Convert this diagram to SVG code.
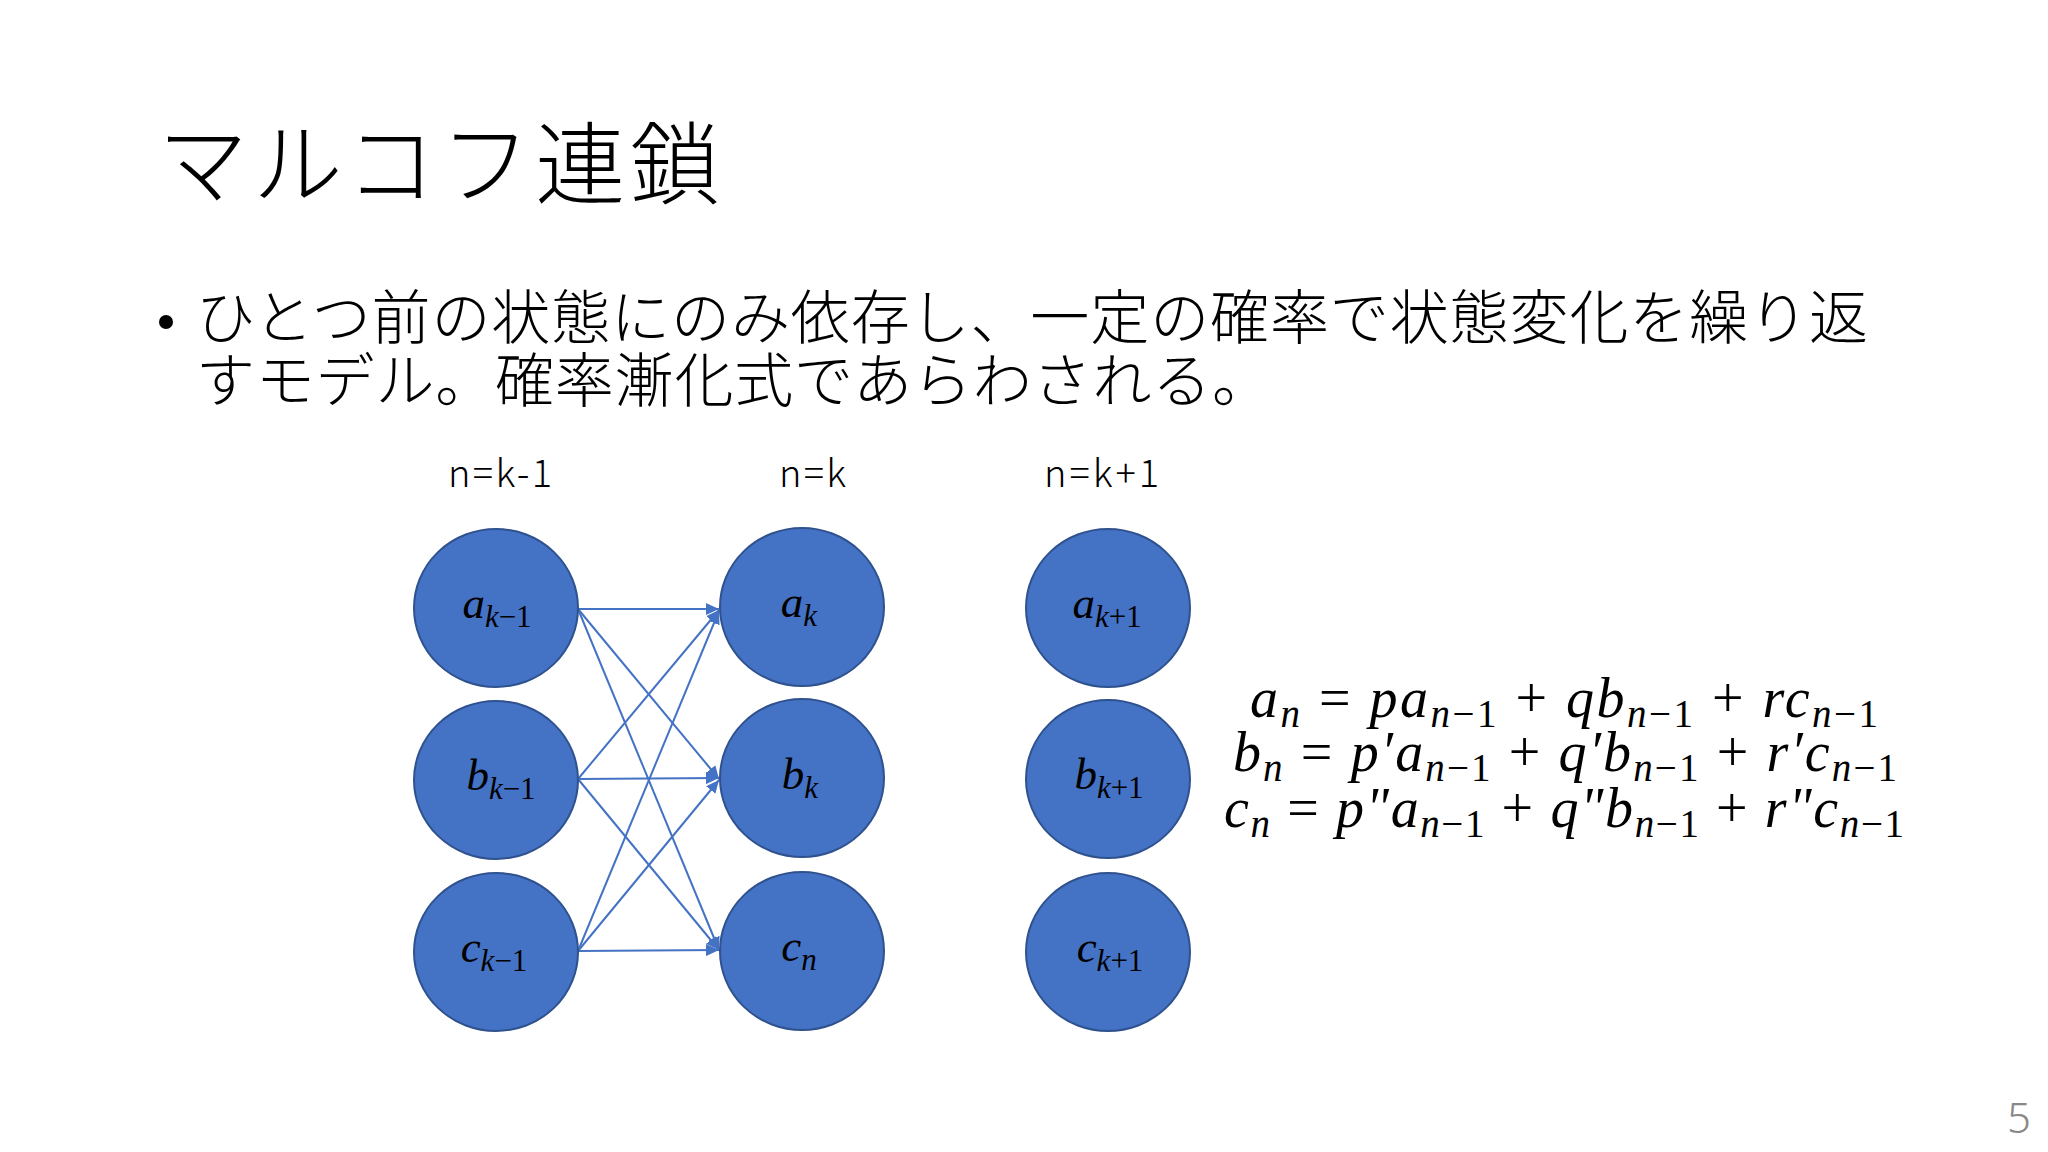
<svg xmlns="http://www.w3.org/2000/svg" width="2048" height="1152" viewBox="0 0 2048 1152">
<defs>
<style>
.jp{font-family:"Noto Sans CJK JP","Noto Sans",sans-serif;font-weight:300;fill:#000}
.lbl{font-family:"Noto Sans CJK JP","Noto Sans",sans-serif;font-weight:300;font-size:38px;fill:#000}
.node{fill:#4472C4;stroke:#2F528F;stroke-width:2}
.m{font-family:"Liberation Serif","DejaVu Serif",serif;fill:#000}
.i{font-style:italic}
.up{font-style:normal}
.edge{stroke:#4472C4;stroke-width:2;fill:none;marker-end:url(#arr)}
</style>
<marker id="arr" markerUnits="userSpaceOnUse" markerWidth="14" markerHeight="12" refX="13" refY="6" orient="auto">
<path d="M0,0 L13,6 L0,12 Z" fill="#4472C4"/>
</marker>
</defs>
<rect width="2048" height="1152" fill="#ffffff"/>

<text id="title" class="jp" x="158" y="197" font-size="90" textLength="562" lengthAdjust="spacing">マルコフ連鎖</text>

<g id="bullet">
<circle cx="166" cy="322" r="7" fill="#000"/>
<text class="jp" x="196" y="339" font-size="59" textLength="1672" lengthAdjust="spacing">ひとつ前の状態にのみ依存し、一定の確率で状態変化を繰り返</text>
<text class="jp" x="196" y="402" font-size="59" textLength="1075" lengthAdjust="spacing">すモデル。確率漸化式であらわされる。</text>
</g>

<g id="col-labels">
<text class="lbl" x="448" y="487" textLength="104" lengthAdjust="spacing">n=k-1</text>
<text class="lbl" x="779" y="487" textLength="67" lengthAdjust="spacing">n=k</text>
<text class="lbl" x="1044" y="487" textLength="115" lengthAdjust="spacing">n=k+1</text>
</g>

<g id="connectors">
<line class="edge" x1="578" y1="609" x2="719" y2="609"/>
<line class="edge" x1="578" y1="609" x2="719" y2="779"/>
<line class="edge" x1="578" y1="609" x2="719" y2="950"/>
<line class="edge" x1="578" y1="779" x2="719" y2="610"/>
<line class="edge" x1="578" y1="779" x2="719" y2="778"/>
<line class="edge" x1="578" y1="779" x2="719" y2="950"/>
<line class="edge" x1="578" y1="951" x2="719" y2="611"/>
<line class="edge" x1="578" y1="951" x2="719" y2="780"/>
<line class="edge" x1="578" y1="951" x2="719" y2="950"/>
</g>

<g id="node-a-km1">
<ellipse class="node" cx="496" cy="608" rx="82" ry="79"/>
<text class="m" x="497" y="618" text-anchor="middle" font-size="45"><tspan class="i">a</tspan><tspan font-size="31" dy="9" class="i">k</tspan><tspan font-size="31" class="up">−1</tspan></text>
</g>
<g id="node-b-km1">
<ellipse class="node" cx="496" cy="780" rx="82" ry="79"/>
<text class="m" x="501" y="790" text-anchor="middle" font-size="45"><tspan class="i">b</tspan><tspan font-size="31" dy="9" class="i">k</tspan><tspan font-size="31" class="up">−1</tspan></text>
</g>
<g id="node-c-km1">
<ellipse class="node" cx="496" cy="952" rx="82" ry="79"/>
<text class="m" x="494" y="962" text-anchor="middle" font-size="45"><tspan class="i">c</tspan><tspan font-size="31" dy="9" class="i">k</tspan><tspan font-size="31" class="up">−1</tspan></text>
</g>

<g id="node-a-k">
<ellipse class="node" cx="802" cy="607" rx="82" ry="79"/>
<text class="m" x="799" y="617" text-anchor="middle" font-size="45"><tspan class="i">a</tspan><tspan font-size="31" dy="9" class="i">k</tspan></text>
</g>
<g id="node-b-k">
<ellipse class="node" cx="802" cy="778" rx="82" ry="79"/>
<text class="m" x="800" y="789" text-anchor="middle" font-size="45"><tspan class="i">b</tspan><tspan font-size="31" dy="9" class="i">k</tspan></text>
</g>
<g id="node-c-n">
<ellipse class="node" cx="802" cy="951" rx="82" ry="79"/>
<text class="m" x="799" y="961" text-anchor="middle" font-size="45"><tspan class="i">c</tspan><tspan font-size="31" dy="9" class="i">n</tspan></text>
</g>

<g id="node-a-kp1">
<ellipse class="node" cx="1108" cy="608" rx="82" ry="79"/>
<text class="m" x="1107" y="618" text-anchor="middle" font-size="45"><tspan class="i">a</tspan><tspan font-size="31" dy="9" class="i">k</tspan><tspan font-size="31" class="up">+1</tspan></text>
</g>
<g id="node-b-kp1">
<ellipse class="node" cx="1108" cy="779" rx="82" ry="79"/>
<text class="m" x="1109" y="789" text-anchor="middle" font-size="45"><tspan class="i">b</tspan><tspan font-size="31" dy="9" class="i">k</tspan><tspan font-size="31" class="up">+1</tspan></text>
</g>
<g id="node-c-kp1">
<ellipse class="node" cx="1108" cy="952" rx="82" ry="79"/>
<text class="m" x="1110" y="962" text-anchor="middle" font-size="45"><tspan class="i">c</tspan><tspan font-size="31" dy="9" class="i">k</tspan><tspan font-size="31" class="up">+1</tspan></text>
</g>

<g id="equations" class="m" font-size="56">
<text x="1250" y="717" textLength="628" lengthAdjust="spacing"><tspan class="i">a</tspan><tspan class="i" font-size="39" dy="10">n</tspan><tspan dy="-10"> = </tspan><tspan class="i">pa</tspan><tspan class="i" font-size="39" dy="10">n</tspan><tspan font-size="39">−1</tspan><tspan dy="-10"> + </tspan><tspan class="i">qb</tspan><tspan class="i" font-size="39" dy="10">n</tspan><tspan font-size="39">−1</tspan><tspan dy="-10"> + </tspan><tspan class="i">rc</tspan><tspan class="i" font-size="39" dy="10">n</tspan><tspan font-size="39">−1</tspan></text>
<text x="1233" y="771" textLength="664" lengthAdjust="spacing"><tspan class="i">b</tspan><tspan class="i" font-size="39" dy="10">n</tspan><tspan dy="-10"> = </tspan><tspan class="i">p′a</tspan><tspan class="i" font-size="39" dy="10">n</tspan><tspan font-size="39">−1</tspan><tspan dy="-10"> + </tspan><tspan class="i">q′b</tspan><tspan class="i" font-size="39" dy="10">n</tspan><tspan font-size="39">−1</tspan><tspan dy="-10"> + </tspan><tspan class="i">r′c</tspan><tspan class="i" font-size="39" dy="10">n</tspan><tspan font-size="39">−1</tspan></text>
<text x="1224" y="827" textLength="680" lengthAdjust="spacing"><tspan class="i">c</tspan><tspan class="i" font-size="39" dy="10">n</tspan><tspan dy="-10"> = </tspan><tspan class="i">p"a</tspan><tspan class="i" font-size="39" dy="10">n</tspan><tspan font-size="39">−1</tspan><tspan dy="-10"> + </tspan><tspan class="i">q"b</tspan><tspan class="i" font-size="39" dy="10">n</tspan><tspan font-size="39">−1</tspan><tspan dy="-10"> + </tspan><tspan class="i">r"c</tspan><tspan class="i" font-size="39" dy="10">n</tspan><tspan font-size="39">−1</tspan></text>
</g>

<text id="page" x="2031" y="1133" text-anchor="end" font-family="Noto Sans, sans-serif" font-weight="300" font-size="42" fill="#888888">5</text>
</svg>
